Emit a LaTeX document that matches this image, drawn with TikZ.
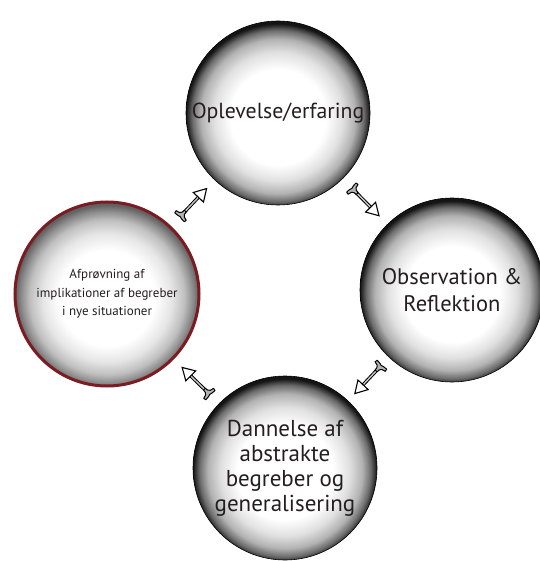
\documentclass[tikz,border=0pt]{standalone}
\usepackage{fontspec}
\setmainfont{PT Sans}
\usetikzlibrary{decorations.markings}
\pgfdeclareradialshading{sphere}{\pgfpoint{0bp}{-1.5bp}}{color(0bp)=(white); color(13bp)=(white); color(17.5bp)=(black!12); color(21bp)=(black!30); color(23.3bp)=(black!58); color(25bp)=(black!92); color(50bp)=(black!92)}
\pgfdeclareradialshading{spherelight}{\pgfpoint{0bp}{-1.5bp}}{color(0bp)=(white); color(13bp)=(white); color(17.5bp)=(black!10); color(21bp)=(black!25); color(23.3bp)=(black!45); color(25bp)=(black!62); color(50bp)=(black!62)}
\definecolor{ringred}{HTML}{7B1C22}
\definecolor{txt}{HTML}{231F20}
\newcommand\flowarrow{%
  \draw[line width=3.4pt, black] (-14pt,0pt) -- (10pt,0pt);
  \draw[line width=1.4pt, black!22] (-14pt,0pt) -- (10pt,0pt);
  \draw[fill=white, line width=1.1pt, line join=miter] (20pt,0pt) -- (8pt,7pt) -- (8pt,-7pt) -- cycle;
  \draw[fill=black!30, line width=1pt, line join=round]
    (-11pt,1.3pt) -- (-14pt,1.6pt) .. controls (-16pt,2pt) and (-16.5pt,4pt) .. (-17pt,7pt)
    -- (-19.5pt,6.5pt) .. controls (-19.5pt,3pt) and (-19pt,1pt) .. (-18.5pt,0pt)
    .. controls (-19pt,-1pt) and (-19.5pt,-3pt) .. (-19.5pt,-6.5pt)
    -- (-17pt,-7pt) .. controls (-16.5pt,-4pt) and (-16pt,-2pt) .. (-14pt,-1.6pt)
    -- (-11pt,-1.3pt) -- cycle;
}
\begin{document}
\begin{tikzpicture}[x=1pt,y=-1pt,
  ball/.style={circle, minimum size=184pt, inner sep=0pt, shading=sphere,
    draw=black, line width=0.6pt, align=center, text=txt},
  redball/.style={ball, shading=spherelight, draw=ringred, line width=3pt},
  toptext/.style={font=\fontsize{21.8}{25}\selectfont},
  bigtext/.style={font=\fontsize{23}{25}\selectfont},
  righttext/.style={font=\fontsize{22.5}{27}\selectfont},
  smalltext/.style={font=\fontsize{13}{18.5}\selectfont}
  ,flow/.style={postaction={decorate},
    decoration={markings, mark=at position 0.5 with {\flowarrow}}}
]
\fill[white] (0,0) rectangle (539,561);
\useasboundingbox (0,0) rectangle (539,561);
\node[ball, toptext] (T) at (278,113) {Oplevelse/erfaring};
\node[ball, righttext] (R) at (452,290) {Observation \&\\Reflektion};
\node[ball, bigtext] (B) at (285,468) {Dannelse af\\abstrakte\\begreber og\\generalisering};
\node[redball, smalltext] (L) at (107,294) {Afprøvning af\\implikationer af begreber\\i nye situationer};
\path[flow] (L) -- (T);
\path[flow] (T) -- (R);
\path[flow] (R) -- (B);
\path[flow] (B) -- (L);
\end{tikzpicture}
\end{document}
